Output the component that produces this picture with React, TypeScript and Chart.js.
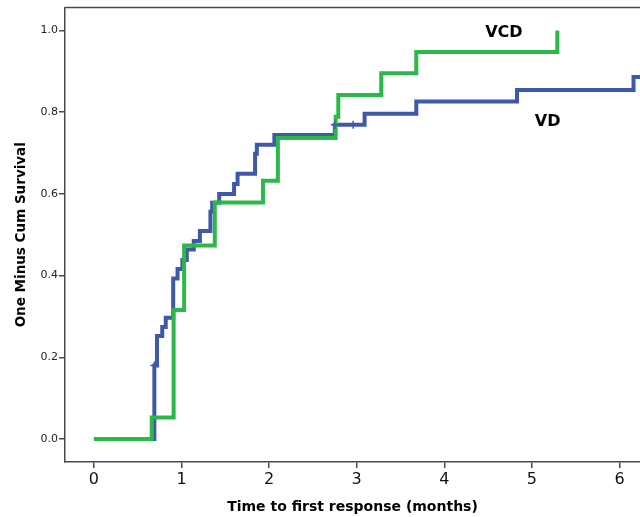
import React, { useEffect, useRef } from "react";
import { Chart, registerables } from "chart.js";

Chart.register(...registerables);

// Kaplan-Meier style step data (time in months, one minus cum survival)
const vcdTimes = [0, 0.66, 0.91, 1.03, 1.38, 1.93, 2.1, 2.76, 2.79, 3.28, 3.68, 5.29];
const vcdValues = [0, 0.053, 0.316, 0.474, 0.579, 0.632, 0.737, 0.789, 0.842, 0.895, 0.947, 1.0];

const vdTimes = [0, 0.69, 0.72, 0.78, 0.82, 0.905, 0.955, 1.01, 1.06, 1.14, 1.21, 1.33, 1.35, 1.43, 1.6, 1.64, 1.84, 1.86, 2.06, 2.75, 3.09, 3.68, 4.83, 6.16, 6.5];
const vdValues = [0, 0.18, 0.252, 0.274, 0.297, 0.393, 0.416, 0.438, 0.464, 0.485, 0.509, 0.556, 0.578, 0.6, 0.624, 0.649, 0.698, 0.72, 0.744, 0.769, 0.796, 0.826, 0.854, 0.886, 0.886];

const vdCensorTimes = [0.69, 2.75, 2.96];
const vdCensorValues = [0.18, 0.769, 0.769];

const xTickValues = [0, 1, 2, 3, 4, 5, 6];
const yTickValues = [0, 0.2, 0.4, 0.6, 0.8, 1.0];

const seriesLabels = ["VCD", "VD"];
const labelX = [4.68, 5.18];
const labelY = [0.993, 0.777];

const GREEN = "rgb(44,184,72)";
const BLUE = "rgb(62,88,170)";
const AXIS = "#4a4a4a";
const FONT = "'DejaVu Sans', sans-serif";

export default function App() {
  const ref = useRef<HTMLCanvasElement | null>(null);

  useEffect(() => {
    if (!ref.current) return;
    const framePlugin = {
      id: "frameAndLabels",
      afterDatasetsDraw(chart: any) {
        const { ctx, chartArea, scales } = chart;
        ctx.save();
        ctx.strokeStyle = AXIS;
        ctx.lineWidth = 1.5;
        ctx.beginPath();
        ctx.moveTo(chartArea.left, chartArea.top);
        ctx.lineTo(chartArea.right, chartArea.top);
        ctx.stroke();
        ctx.fillStyle = "#000";
        ctx.font = `bold 16px ${FONT}`;
        ctx.textAlign = "center";
        ctx.textBaseline = "middle";
        seriesLabels.forEach((t, i) => {
          ctx.fillText(t, scales.x.getPixelForValue(labelX[i]), scales.y.getPixelForValue(labelY[i]));
        });
        ctx.restore();
      },
    };

    const chart = new Chart(ref.current, {
      type: "line",
      data: {
        datasets: [
          {
            label: "VCD",
            data: vcdTimes.map((t, i) => ({ x: t, y: vcdValues[i] })),
            borderColor: GREEN,
            borderWidth: 4,
            stepped: "before",
            pointRadius: 0,
            fill: false,
            order: 1,
          },
          {
            label: "VD",
            data: vdTimes.map((t, i) => ({ x: t, y: vdValues[i] })),
            borderColor: BLUE,
            borderWidth: 4,
            stepped: "before",
            pointRadius: 0,
            fill: false,
            order: 2,
          },
          {
            label: "VD censored",
            data: vdCensorTimes.map((t, i) => ({ x: t, y: vdCensorValues[i] })),
            showLine: false,
            pointStyle: "cross",
            pointRadius: 4,
            pointBorderWidth: 1.5,
            pointBorderColor: BLUE,
            order: 0,
          },
        ],
      },
      options: {
        animation: false,
        responsive: false,
        layout: { autoPadding: false, padding: { top: 7.5, right: 0, left: 0, bottom: 0 } },
        plugins: { legend: { display: false }, tooltip: { enabled: false } },
        scales: {
          x: {
            type: "linear",
            min: -0.33,
            max: 6.234,
            afterBuildTicks: (s: any) => {
              s.ticks = xTickValues.map((v) => ({ value: v }));
            },
            afterFit: (s: any) => {
              s.height = 55;
              s.paddingLeft = 0;
              s.paddingRight = 0;
            },
            ticks: {
              font: { family: FONT, size: 16 },
              color: "#111",
              padding: 2,
              maxRotation: 0,
              callback: (v: any) => String(v),
            },
            grid: { drawOnChartArea: false, drawTicks: true, tickLength: 6, color: AXIS, lineWidth: 1.5 },
            border: { display: true, color: AXIS, width: 1.5 },
            title: {
              display: true,
              text: "Time to first response (months)",
              font: { family: FONT, size: 14, weight: "bold" },
              color: "#000",
              padding: { top: 0, bottom: 1.6 },
            },
          },
          y: {
            type: "linear",
            min: -0.056,
            max: 1.056,
            afterBuildTicks: (s: any) => {
              s.ticks = yTickValues.map((v) => ({ value: v }));
            },
            afterFit: (s: any) => {
              s.width = 65;
              s.paddingTop = 0;
              s.paddingBottom = 0;
            },
            ticks: {
              font: { family: FONT, size: 11 },
              color: "#222",
              padding: 1,
              callback: (v: any) => Number(v).toFixed(1),
            },
            grid: { drawOnChartArea: false, drawTicks: true, tickLength: 6, color: AXIS, lineWidth: 1.5 },
            border: { display: true, color: AXIS, width: 1.5 },
            title: {
              display: true,
              text: "One Minus Cum Survival",
              font: { family: FONT, size: 13.5, weight: "bold" },
              color: "#000",
              padding: { top: 13.8, bottom: 0 },
            },
          },
        },
      },
      plugins: [framePlugin],
    });
    return () => chart.destroy();
  }, []);

  return (
    <div style={{ position: "absolute", left: 0, top: 0, width: 640, height: 517, background: "#fff", overflow: "hidden" }}>
      <canvas ref={ref} width={640} height={517} />
    </div>
  );
}
